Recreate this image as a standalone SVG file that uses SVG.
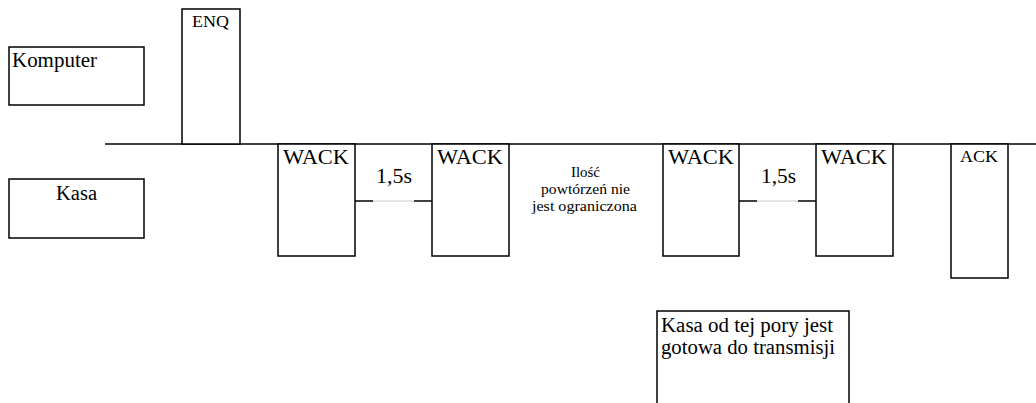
<svg xmlns="http://www.w3.org/2000/svg" width="1036" height="403" viewBox="0 0 1036 403">
<style>
.box{fill:#fff;stroke:#000;stroke-width:1.5}
.ln{stroke:#000;stroke-width:1.5;fill:none}
.gr{stroke:#c8c8c8;stroke-width:1;fill:none}
text{fill:#000}
</style>
<rect width="1036" height="403" fill="#fff"/>
<g id="connectors">
<line class="ln" x1="105" y1="144" x2="1036" y2="144"/>
<line class="ln" x1="355" y1="201" x2="373" y2="201"/>
<line class="gr" x1="373" y1="201" x2="414" y2="201"/>
<line class="ln" x1="414" y1="201" x2="432" y2="201"/>
<line class="ln" x1="739" y1="201" x2="757" y2="201"/>
<line class="gr" x1="757" y1="201" x2="798" y2="201"/>
<line class="ln" x1="798" y1="201" x2="816" y2="201"/>
</g>
<g font-family="Liberation Serif, Times New Roman, serif">
<g id="komputer"><rect class="box" x="9" y="47" width="135" height="58"/><text x="12" y="67" font-size="20" textLength="85" lengthAdjust="spacingAndGlyphs">Komputer</text></g>
<g id="kasa"><rect class="box" x="9" y="179" width="135" height="59"/><text x="56" y="200" font-size="20" textLength="41" lengthAdjust="spacingAndGlyphs">Kasa</text></g>
<g id="enq"><rect class="box" x="182" y="9" width="58" height="135"/><text x="192" y="27" font-size="17" textLength="37" lengthAdjust="spacingAndGlyphs">ENQ</text></g>
<g id="wack1"><rect class="box" x="278" y="144" width="77" height="112"/><text x="283" y="164" font-size="20" textLength="66" lengthAdjust="spacingAndGlyphs">WACK</text></g>
<g id="t1"><text x="376" y="183" font-size="21" textLength="36" lengthAdjust="spacingAndGlyphs">1,5s</text></g>
<g id="wack2"><rect class="box" x="432" y="144" width="77" height="112"/><text x="437" y="164" font-size="20" textLength="66" lengthAdjust="spacingAndGlyphs">WACK</text></g>
<g id="note"><text font-size="15"><tspan x="571" y="177" textLength="29" lengthAdjust="spacingAndGlyphs">Ilość</tspan><tspan x="541" y="194" textLength="89" lengthAdjust="spacingAndGlyphs">powtórzeń nie</tspan><tspan x="532" y="211" textLength="105" lengthAdjust="spacingAndGlyphs">jest ograniczona</tspan></text></g>
<g id="wack3"><rect class="box" x="663" y="144" width="76" height="112"/><text x="668" y="164" font-size="20" textLength="66" lengthAdjust="spacingAndGlyphs">WACK</text></g>
<g id="t2"><text x="761" y="183" font-size="21" textLength="35" lengthAdjust="spacingAndGlyphs">1,5s</text></g>
<g id="wack4"><rect class="box" x="816" y="144" width="77" height="112"/><text x="821" y="164" font-size="20" textLength="66" lengthAdjust="spacingAndGlyphs">WACK</text></g>
<g id="ack"><rect class="box" x="951" y="144" width="57" height="134"/><text x="960" y="162" font-size="17" textLength="38" lengthAdjust="spacingAndGlyphs">ACK</text></g>
<g id="ready"><rect class="box" x="657" y="311" width="192" height="100"/><text font-size="20.5"><tspan x="661" y="332" textLength="172" lengthAdjust="spacingAndGlyphs">Kasa od tej pory jest</tspan><tspan x="661" y="354" textLength="174" lengthAdjust="spacingAndGlyphs">gotowa do transmisji</tspan></text></g>
</g>
</svg>
